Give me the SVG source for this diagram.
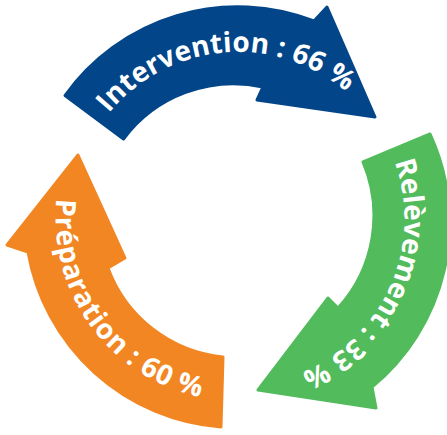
<svg xmlns="http://www.w3.org/2000/svg" xmlns:xlink="http://www.w3.org/1999/xlink" width="447" height="435" viewBox="0 0 447 435">
  <style>
    .arrow { stroke-width: 3; stroke-linejoin: round; }
    .blue { fill: #024589; stroke: #024589; }
    .green { fill: #52bb5c; stroke: #52bb5c; }
    .orange { fill: #f28623; stroke: #f28623; }
    .lbl { font-family: "Open Sans", "Liberation Sans", sans-serif; font-weight: 700; font-size: 28px; fill: #ffffff; }
  </style>
  <defs>
    <path id="arcBlue" d="M167.9,369.5 A166.5,166.5 0 1 1 333.7,354.7" fill="none"/>
    <path id="arcGreen" d="M139.9,84 A166.5,166.5 0 1 1 72.4,236.2" fill="none"/>
    <path id="arcOrange" d="M312.2,51.8 A182.5,182.5 0 1 0 419.5,199.4" fill="none"/>
  </defs>
  <g id="intervention">
    <path class="arrow blue" d="M65,95.5 A212,212 0 0 1 314,21 L327,7 L375,117 L257,100 L263,87 A137,137 0 0 0 123.5,139 Z"/>
    <text class="lbl" letter-spacing="0.1"><textPath xlink:href="#arcBlue" href="#arcBlue" startOffset="50%" text-anchor="middle">Intervention : 66 %</textPath></text>
  </g>
  <g id="relevement">
    <path class="arrow green" d="M430,134 A212,212 0 0 1 372,387 L376,408 L258,390 L328,298 L338,308 A137,137 0 0 0 363,162 Z"/>
    <text class="lbl" letter-spacing="0"><textPath xlink:href="#arcGreen" href="#arcGreen" startOffset="50%" text-anchor="middle">Relèvement : 33 %</textPath></text>
  </g>
  <g id="preparation">
    <path class="arrow orange" d="M221,427 A212,212 0 0 1 28,252 L7,245 L78,155 L125,258 L108,268 A137,137 0 0 0 223,357 Z"/>
    <text class="lbl" letter-spacing="0.8"><textPath xlink:href="#arcOrange" href="#arcOrange" startOffset="50%" text-anchor="middle">Préparation : 60 %</textPath></text>
  </g>
</svg>
